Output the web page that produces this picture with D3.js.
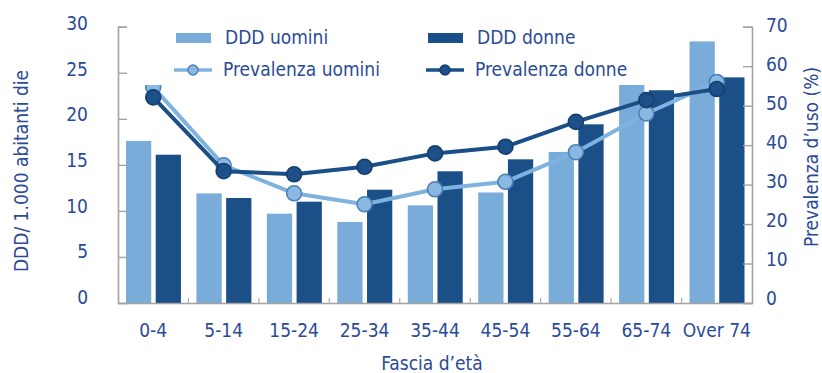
<!DOCTYPE html>
<html>
<head>
<meta charset="utf-8">
<script src="https://cdn.jsdelivr.net/npm/d3@7/dist/d3.min.js"></script>
<style>
  html, body { margin: 0; padding: 0; background: #ffffff; }
  svg { display: block; }
  text { font-family: "DejaVu Sans Condensed", "DejaVu Sans", sans-serif; fill: #2a4b96; }
</style>
</head>
<body>
<svg id="chart" width="822" height="373"></svg>
<script>
// Age groups
const categories = ["0-4", "5-14", "15-24", "25-34", "35-44", "45-54", "55-64", "65-74", "Over 74"];
// DDD per 1,000 inhabitants per day (left axis)
const dddUomini = [17.6, 11.9, 9.7, 8.8, 10.6, 12.0, 16.4, 24.5, 28.4];
const dddDonne  = [16.1, 11.4, 11.0, 12.3, 14.3, 15.6, 19.4, 23.1, 24.5];
// Prevalence of use, % (right axis)
const prevUomini = [54.7, 34.9, 27.8, 25.0, 28.8, 30.7, 38.2, 48.0, 56.0];
const prevDonne  = [52.1, 33.4, 32.6, 34.5, 37.9, 39.6, 45.9, 51.4, 54.2];
// Tick labels
const leftTicks  = [0, 5, 10, 15, 20, 25, 30];
const rightTicks = [0, 10, 20, 30, 40, 50, 60, 70];

const lightBlue = "#79acd9";
const darkBlue  = "#1b4f87";
const axisGray  = "#a3a3a3";

const svg = d3.select("#chart");
const plot = { left: 118, right: 752, top: 26.7, bottom: 303 };

const x = d3.scaleBand().domain(categories).range([plot.left, plot.right]).padding(0);
const sub = d3.scaleBand().domain(["u", "d"]).range([8, x.bandwidth() - 7.5]).paddingInner(0.15);
const yL = d3.scaleLinear().domain([0, 30]).range([plot.bottom, plot.top]);
const yR = d3.scaleLinear().domain([0, 70]).range([plot.bottom, plot.top]);

// Bars
const bars = svg.append("g");
const barData = categories.map((c, i) => ({ c, u: dddUomini[i], d: dddDonne[i] }));
const grp = bars.selectAll("g").data(barData).join("g")
  .attr("transform", d => `translate(${x(d.c)},0)`);
grp.append("rect")
  .attr("x", sub("u")).attr("width", sub.bandwidth())
  .attr("y", d => yL(d.u)).attr("height", d => yL(0) - yL(d.u))
  .attr("fill", lightBlue);
grp.append("rect")
  .attr("x", sub("d")).attr("width", sub.bandwidth())
  .attr("y", d => yL(d.d)).attr("height", d => yL(0) - yL(d.d))
  .attr("fill", darkBlue);

// Axes
const axisStyle = g => {
  g.select(".domain").attr("stroke", axisGray).attr("stroke-width", 1.6);
  g.selectAll(".tick line").attr("stroke", axisGray).attr("stroke-width", 1.4);
};

svg.append("g")
  .attr("transform", `translate(${plot.left},0)`)
  .call(d3.axisRight(yL).tickValues(leftTicks).tickSize(9).tickSizeOuter(9).tickFormat(""))
  .call(axisStyle);

svg.append("g")
  .attr("transform", `translate(${plot.right},0)`)
  .call(d3.axisLeft(yR).tickValues(rightTicks).tickSize(9).tickSizeOuter(9).tickFormat(""))
  .call(axisStyle);

const bottomAxis = svg.append("g")
  .attr("transform", `translate(0,${plot.bottom})`)
  .call(d3.axisTop(x).tickValues([]).tickSizeOuter(0))
  .call(axisStyle);
// category separators on the baseline
bottomAxis.selectAll("line.sep")
  .data(categories.slice(1)).join("line")
  .attr("class", "sep")
  .attr("x1", d => x(d)).attr("x2", d => x(d))
  .attr("y1", 0).attr("y2", -5)
  .attr("stroke", "#b8a8a0").attr("stroke-width", 1.2);

// Tick labels
svg.append("g").selectAll("text").data(leftTicks).join("text")
  .attr("x", 88).attr("y", d => yL(d) - 6 + d * 0.07)
  .attr("text-anchor", "end").attr("dominant-baseline", "central")
  .attr("font-size", 19).text(d => d);

svg.append("g").selectAll("text").data(rightTicks).join("text")
  .attr("x", 766).attr("y", d => yR(d) - 5 + d * 0.04)
  .attr("text-anchor", "start").attr("dominant-baseline", "central")
  .attr("font-size", 19).text(d => d);

svg.append("g").selectAll("text").data(categories).join("text")
  .attr("x", d => x(d) + x.bandwidth() / 2).attr("y", 337)
  .attr("text-anchor", "middle")
  .attr("font-size", 19).text(d => d);

// Axis titles
svg.append("text")
  .attr("transform", "translate(28,171) rotate(-90)")
  .attr("text-anchor", "middle").attr("font-size", 19)
  .text("DDD/ 1.000 abitanti die");
svg.append("text")
  .attr("transform", "translate(818,157) rotate(-90)")
  .attr("text-anchor", "middle").attr("font-size", 19)
  .text("Prevalenza d\u2019uso (%)");
svg.append("text")
  .attr("x", 432).attr("y", 370)
  .attr("text-anchor", "middle").attr("font-size", 19)
  .text("Fascia d\u2019et\u00e0");

// Prevalence lines
const cx = d => x(d) + x.bandwidth() / 2;
function series(values, lineColor, fill, stroke) {
  const pts = categories.map((c, i) => [cx(c), yR(values[i])]);
  svg.append("path")
    .attr("d", d3.line()(pts))
    .attr("fill", "none").attr("stroke", lineColor).attr("stroke-width", 4)
    .attr("stroke-linejoin", "round");
  svg.append("g").selectAll("circle").data(pts).join("circle")
    .attr("cx", d => d[0]).attr("cy", d => d[1]).attr("r", 7.5)
    .attr("fill", fill).attr("stroke", stroke).attr("stroke-width", 1.6);
}
series(prevUomini, "#7fb3df", "#8ab8e0", "#4b80b8");
series(prevDonne, darkBlue, "#1d5089", "#153f6e");

// Legend (white panel drawn over the plot)
const legend = svg.append("g");
legend.append("rect")
  .attr("x", 140).attr("y", 23).attr("width", 547).attr("height", 62)
  .attr("fill", "#ffffff");
const legendItems = [
  { x: 176, y: 38, type: "bar", color: lightBlue, label: "DDD uomini" },
  { x: 428, y: 38, type: "bar", color: darkBlue, label: "DDD donne" },
  { x: 174, y: 70, type: "line", color: "#7fb3df", fill: "#8ab8e0", stroke: "#4b80b8", label: "Prevalenza uomini" },
  { x: 426, y: 70, type: "line", color: darkBlue, fill: "#1d5089", stroke: "#153f6e", label: "Prevalenza donne" }
];
legendItems.forEach(it => {
  const g = legend.append("g");
  if (it.type === "bar") {
    g.append("rect").attr("x", it.x).attr("y", it.y - 5).attr("width", 35).attr("height", 10).attr("fill", it.color);
  } else {
    g.append("line").attr("x1", it.x).attr("x2", it.x + 38).attr("y1", it.y).attr("y2", it.y)
      .attr("stroke", it.color).attr("stroke-width", 3.5);
    g.append("circle").attr("cx", it.x + 19).attr("cy", it.y).attr("r", 5)
      .attr("fill", it.fill).attr("stroke", it.stroke).attr("stroke-width", 1.4);
  }
  g.append("text").attr("x", it.x + 49).attr("y", it.y + 6)
    .attr("font-size", 19).text(it.label);
});
</script>
</body>
</html>
